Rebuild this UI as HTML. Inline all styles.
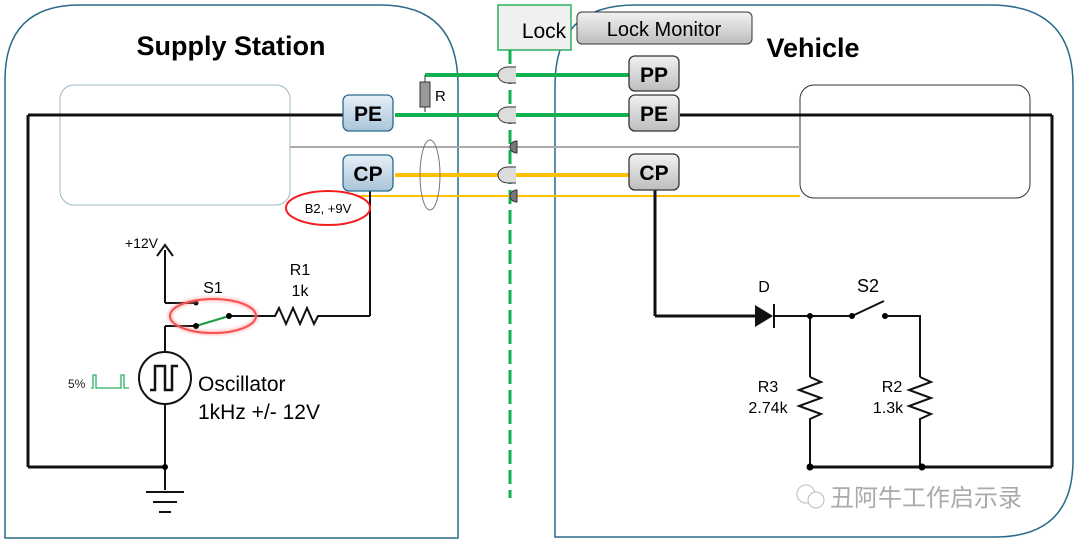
<!DOCTYPE html>
<html><head><style>body{margin:0;background:#fff}svg{display:block}text{font-family:"Liberation Sans",sans-serif}</style></head><body>
<svg width="1080" height="544" viewBox="0 0 1080 544" xmlns="http://www.w3.org/2000/svg">
<defs>
<linearGradient id="g1" x1="0" y1="0" x2="0" y2="1"><stop offset="0" stop-color="#e6f0f8"/><stop offset="1" stop-color="#a9c4da"/></linearGradient>
<linearGradient id="g2" x1="0" y1="0" x2="0" y2="1"><stop offset="0" stop-color="#f2f2f2"/><stop offset="1" stop-color="#bdbdbd"/></linearGradient>
<filter id="glow"><feGaussianBlur stdDeviation="1.5"/></filter>
</defs>
<path d="M5,530 V80 Q5,5 80,5 H380 Q458,5 458,85 V538 H5 Z" fill="none" stroke="#2a6a8a" stroke-width="1.5"/>
<path d="M555,537 V85 Q555,5 635,5 H990 Q1073,5 1073,85 V460 Q1073,537 995,537 Z" fill="none" stroke="#2a6a8a" stroke-width="1.5"/>
<rect x="60" y="85" width="230" height="120" rx="14" fill="none" stroke="#9fb8c8" stroke-width="1"/>
<rect x="800" y="85" width="230" height="113" rx="14" fill="none" stroke="#333" stroke-width="1"/>
<text x="231" y="55" font-size="27" font-weight="bold" text-anchor="middle">Supply Station</text>
<text x="813" y="57" font-size="27" font-weight="bold" text-anchor="middle">Vehicle</text>
<rect x="498" y="5" width="73" height="45" fill="#f0f0f0" stroke="#2ab060" stroke-width="1.5"/>
<text x="544" y="38" font-size="21" text-anchor="middle">Lock</text>
<rect x="577" y="12" width="175" height="32" rx="5" fill="url(#g2)" stroke="#333" stroke-width="1"/>
<text x="664" y="36" font-size="20" text-anchor="middle">Lock Monitor</text>
<line x1="510" y1="50" x2="510" y2="498" stroke="#12b050" stroke-width="3" stroke-dasharray="14,6"/>
<line x1="425" y1="75" x2="630" y2="75" stroke="#12b050" stroke-width="4"/>
<line x1="395" y1="115" x2="630" y2="115" stroke="#12b050" stroke-width="4"/>
<line x1="425" y1="75" x2="425" y2="112" stroke="#333" stroke-width="1"/>
<rect x="420" y="82" width="10" height="25" fill="#999" stroke="#333"/>
<text x="435" y="101" font-size="15">R</text>
<line x1="28" y1="115" x2="343" y2="115" stroke="#111" stroke-width="3"/>
<line x1="680" y1="115" x2="1052" y2="115" stroke="#111" stroke-width="3"/>
<line x1="1052" y1="115" x2="1052" y2="467" stroke="#111" stroke-width="3"/>
<line x1="290" y1="147" x2="800" y2="147" stroke="#aaa" stroke-width="2"/>
<line x1="395" y1="175" x2="630" y2="175" stroke="#ffc000" stroke-width="4"/>
<line x1="310" y1="196" x2="800" y2="196" stroke="#ffc000" stroke-width="2"/>
<ellipse cx="430" cy="175" rx="10" ry="35" fill="none" stroke="#777" stroke-width="1"/>
<g fill="#ddd" stroke="#333" stroke-width="1">
<path d="M516,67 H508 A10,8 0 0 0 508,83 H516"/>
<path d="M516,107 H508 A10,8 0 0 0 508,123 H516"/>
<path d="M516,167 H508 A10,8 0 0 0 508,183 H516"/>
</g>
<g fill="#777" stroke="#333" stroke-width="1">
<path d="M517,141 A7,6 0 0 0 517,153 Z"/>
<path d="M517,190 A7,6 0 0 0 517,202 Z"/>
</g>
<line x1="28" y1="115" x2="28" y2="467" stroke="#111" stroke-width="3"/>
<line x1="28" y1="467" x2="165" y2="467" stroke="#111" stroke-width="3"/>
<line x1="370" y1="190" x2="370" y2="316" stroke="#111" stroke-width="2"/>
<line x1="320" y1="316" x2="370" y2="316" stroke="#111" stroke-width="2"/>
<path d="M255,316 H275 L279,308 L286,324 L293,308 L300,324 L307,308 L314,324 L318,316 H322" fill="none" stroke="#111" stroke-width="2"/>
<text x="300" y="275" font-size="16" text-anchor="middle">R1</text>
<text x="300" y="296" font-size="16" text-anchor="middle">1k</text>
<text x="213" y="293" font-size="16" text-anchor="middle">S1</text>
<line x1="165" y1="250" x2="165" y2="303" stroke="#111" stroke-width="2"/>
<path d="M157,256 L165,245 L173,256" fill="none" stroke="#111" stroke-width="2"/>
<text x="158" y="248" font-size="14" text-anchor="end">+12V</text>
<line x1="165" y1="303" x2="196" y2="303" stroke="#111" stroke-width="2"/>
<line x1="165" y1="326" x2="196" y2="326" stroke="#111" stroke-width="2"/>
<line x1="165" y1="326" x2="165" y2="352" stroke="#111" stroke-width="2"/>
<line x1="196" y1="326" x2="229" y2="316" stroke="#1a9a40" stroke-width="2"/>
<line x1="229" y1="316" x2="258" y2="316" stroke="#111" stroke-width="2"/>
<circle cx="196" cy="303" r="2.5"/><circle cx="196" cy="326" r="3"/><circle cx="229" cy="316" r="3"/>
<ellipse cx="213" cy="316" rx="43" ry="17" fill="none" stroke="#f02020" stroke-width="2"/>
<ellipse cx="213" cy="316" rx="43" ry="17" fill="none" stroke="#f88" stroke-width="4" filter="url(#glow)" opacity=".6"/>
<ellipse cx="328" cy="208" rx="42" ry="17" fill="#fff" stroke="#f02020" stroke-width="2"/>
<text x="328" y="213" font-size="13" text-anchor="middle">B2, +9V</text>
<circle cx="165" cy="378" r="26" fill="#fff" stroke="#111" stroke-width="2"/>
<path d="M150,390 H155 V366 H165 V390 H172 V366 H178" fill="none" stroke="#111" stroke-width="2.5"/>
<line x1="165" y1="404" x2="165" y2="490" stroke="#111" stroke-width="2"/>
<circle cx="165" cy="467" r="3"/>
<line x1="146" y1="492" x2="184" y2="492" stroke="#111" stroke-width="2"/>
<line x1="153" y1="502" x2="177" y2="502" stroke="#111" stroke-width="2"/>
<line x1="159" y1="512" x2="171" y2="512" stroke="#111" stroke-width="2"/>
<text x="68" y="388" font-size="12" fill="#222">5%</text>
<path d="M91,388 H93 V375 H96 V388 H121 V375 H124 V388 H129" fill="none" stroke="#2ab060" stroke-width="1.3"/>
<text x="198" y="391" font-size="21">Oscillator</text>
<text x="198" y="419" font-size="21">1kHz +/- 12V</text>
<line x1="655" y1="190" x2="655" y2="316" stroke="#111" stroke-width="3"/>
<line x1="655" y1="316" x2="755" y2="316" stroke="#111" stroke-width="3"/>
<path d="M755,305 L773,316 L755,327 Z" fill="#111"/>
<line x1="774" y1="304" x2="774" y2="328" stroke="#111" stroke-width="2"/>
<line x1="774" y1="316" x2="852" y2="316" stroke="#111" stroke-width="2"/>
<text x="764" y="292" font-size="16" text-anchor="middle">D</text>
<text x="868" y="292" font-size="18" text-anchor="middle">S2</text>
<line x1="852" y1="316" x2="884" y2="301" stroke="#111" stroke-width="2"/>
<circle cx="852" cy="316" r="3"/><circle cx="885" cy="316" r="3"/>
<path d="M885,316 H920 V377" fill="none" stroke="#111" stroke-width="2"/>
<line x1="810" y1="316" x2="810" y2="377" stroke="#111" stroke-width="2"/>
<path d="M810,377 L821,382 L799,390 L821,398 L799,406 L821,414 L810,419 V467" fill="none" stroke="#111" stroke-width="2"/>
<path d="M920,377 L931,382 L909,390 L931,398 L909,406 L931,414 L920,419 V467" fill="none" stroke="#111" stroke-width="2"/>
<circle cx="810" cy="316" r="3"/>
<line x1="810" y1="467" x2="1052" y2="467" stroke="#111" stroke-width="3"/>
<circle cx="810" cy="467" r="3.5"/><circle cx="922" cy="467" r="3.5"/>
<text x="768" y="392" font-size="16" text-anchor="middle">R3</text>
<text x="768" y="413" font-size="16" text-anchor="middle">2.74k</text>
<text x="892" y="392" font-size="16" text-anchor="middle">R2</text>
<text x="888" y="413" font-size="16" text-anchor="middle">1.3k</text>
<g font-weight="bold" font-size="21" text-anchor="middle">
<rect x="343" y="95" width="50" height="36" rx="6" fill="url(#g1)" stroke="#2a6a8a" stroke-width="1.3"/><text x="368" y="121">PE</text>
<rect x="343" y="155" width="50" height="36" rx="6" fill="url(#g1)" stroke="#2a6a8a" stroke-width="1.3"/><text x="368" y="181">CP</text>
<rect x="629" y="56" width="50" height="35" rx="6" fill="url(#g2)" stroke="#333" stroke-width="1.3"/><text x="654" y="82">PP</text>
<rect x="629" y="95" width="50" height="36" rx="6" fill="url(#g2)" stroke="#333" stroke-width="1.3"/><text x="654" y="121">PE</text>
<rect x="629" y="154" width="50" height="36" rx="6" fill="url(#g2)" stroke="#333" stroke-width="1.3"/><text x="654" y="180">CP</text>
</g>
<text x="830" y="506" font-size="24" fill="#aaa" font-family="'Liberation Sans','Noto Sans CJK SC',sans-serif">丑阿牛工作启示录</text>
<circle cx="806" cy="494" r="9" fill="none" stroke="#bbb"/><circle cx="816" cy="500" r="8" fill="#fff" stroke="#bbb"/>
</svg>
</body></html>
